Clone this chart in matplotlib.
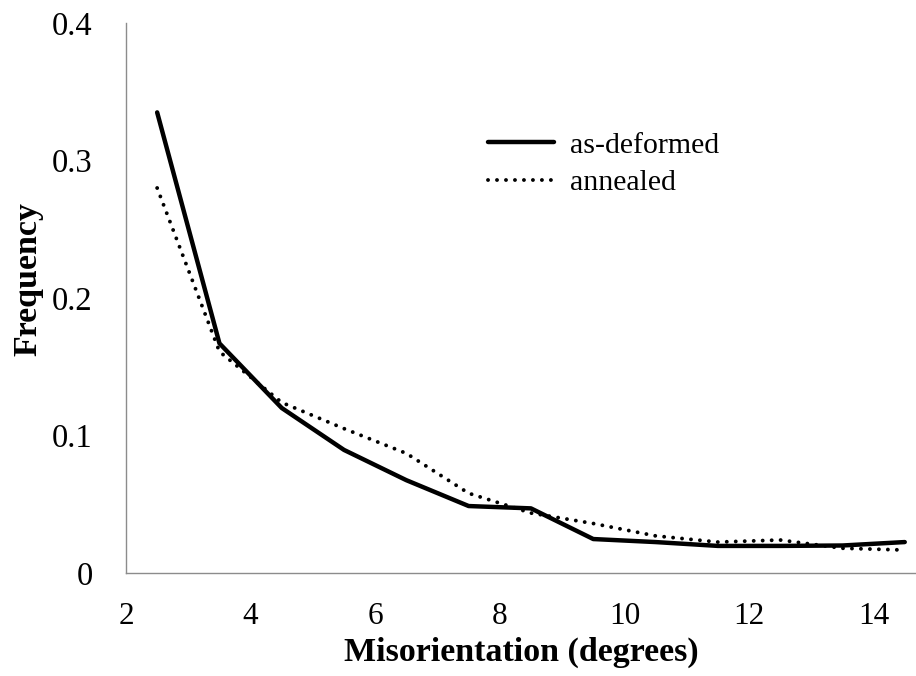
import matplotlib
matplotlib.use("Agg")
import matplotlib.pyplot as plt

# Misorientation histogram (bin centres, degrees) and frequencies
misorientation = [2.5, 3.5, 4.5, 5.5, 6.5, 7.5, 8.5, 9.5, 10.5, 11.5, 12.5, 13.5, 14.5]
as_deformed = [0.335, 0.167, 0.120, 0.0895, 0.0675, 0.0487, 0.047, 0.0247,
               0.0225, 0.0197, 0.0197, 0.0200, 0.0225]
annealed = [0.280, 0.161, 0.124, 0.105, 0.087, 0.058, 0.0436, 0.036,
            0.027, 0.0225, 0.024, 0.018, 0.0167]
x_ticks = [2, 4, 6, 8, 10, 12, 14]
y_ticks = [0, 0.1, 0.2, 0.3, 0.4]
y_tick_labels = ["0", "0.1", "0.2", "0.3", "0.4"]

plt.rcParams["font.family"] = ["Liberation Serif", "DejaVu Serif"]

W, H = 916, 676
fig = plt.figure(figsize=(W / 100, H / 100), dpi=100)
ax = fig.add_axes([126 / W, (H - 573) / H, (W - 126) / W, (573 - 23) / H])

ax.plot(misorientation, as_deformed, color="black", lw=3.2,
        solid_capstyle="round", solid_joinstyle="round", label="as-deformed")
ax.plot(misorientation, annealed, color="black", lw=2.8,
        linestyle=(0, (0.01, 2.3)), dash_capstyle="round", label="annealed")

ax.set_xlim(2, 2 + (W - 126) / 62.3)
ax.set_ylim(0, 0.4)
ax.set_xticks(x_ticks)
ax.set_yticks(y_ticks)
ax.set_yticklabels(y_tick_labels)

for side in ("top", "right"):
    ax.spines[side].set_visible(False)
for side in ("left", "bottom"):
    ax.spines[side].set_color("#8c8c8c")
    ax.spines[side].set_linewidth(1.0)

ax.tick_params(axis="both", length=0, colors="black")
ax.tick_params(axis="x", pad=21, labelsize=22.5)
ax.tick_params(axis="y", pad=24, labelsize=23.5)

ax.set_xlabel("Misorientation (degrees)", fontsize=24.5, fontweight="bold", labelpad=4)
fig.text(28 / W, 1 - 279 / H, "Frequency", rotation=90, fontsize=24.5,
         fontweight="bold", ha="center", va="center")

ax.legend(loc="upper left", bbox_to_anchor=((476 - 126) / (W - 126), (573 - 120) / 550),
          frameon=False, fontsize=21.5, handlelength=2.2, handletextpad=0.55,
          labelspacing=0.35, borderaxespad=0)

fig.savefig("out.png", dpi=100)
